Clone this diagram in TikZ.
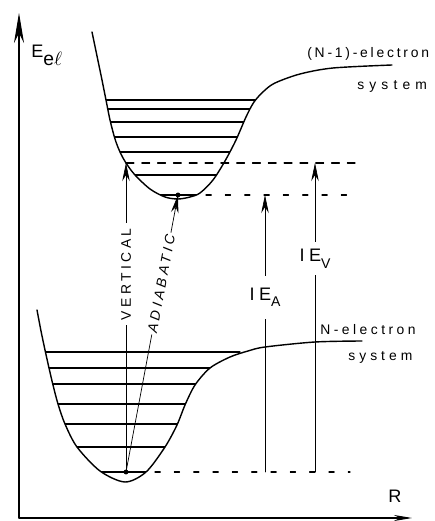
\documentclass[tikz,border=0pt]{standalone}
\usepackage{fontspec}
\usepackage{tikz}
\usetikzlibrary{arrows.meta}
\newfontfamily\labfont[LetterSpace=25]{Liberation Sans}

\begin{document}
\begin{tikzpicture}[x=0.02cm,y=0.02cm,>={Stealth[length=0.36cm,width=0.15cm]},line cap=round,
pot/.style={thick},vib/.style={semithick},guide/.style={semithick,dash pattern=on 4.5pt off 4.5pt},
sparse/.style={semithick,dash pattern=on 3pt off 8pt},
lab/.style={font=\labfont\fontsize{7.9}{9}\selectfont},
tilt/.style={font=\labfont\itshape\fontsize{7.9}{9}\selectfont},
big/.style={font=\labfont\fontsize{10.3}{12}\selectfont},
gapfill/.style={fill=white,inner sep=1pt}]
\useasboundingbox (0,0) rectangle (435,521);
\coordinate (O) at (19,3);
\coordinate (ytop) at (19,508);
\coordinate (xend) at (412,3);
\draw[semithick,-{Stealth[length=0.6cm,width=0.2cm]}] (O) -- (ytop);
\draw[semithick,-{Stealth[length=0.36cm,width=0.12cm]}] (O) -- (xend);
\node[big,anchor=base west,inner sep=0pt] (elab) at (31,463) {E\raisebox{-4pt}{\fontsize{11}{11}\selectfont e$\ell$}};
\node[big] (rlab) at (395,25) {R};
\draw[pot] plot[smooth] coordinates {(92,489) (97,465) (102,441) (106,421) (110,401) (115,382) (120,369) (126,358) (135,346) (150,332) (165,324) (178,322) (190,324) (200,328) (213,341) (225,360) (236,381) (246,404) (254,419) (264,430) (275,438) (300,447) (333,453) (392,456)};
\draw[pot] plot[smooth] coordinates {(37,211) (41,190) (45,171) (49,153) (53,136) (58,117) (65,97) (77,74) (100,50) (125,39) (146,49) (165,74) (177,96) (185,116) (195,136) (210,153) (230,164) (248,170) (265,174) (315,179) (362,180)};
\begin{scope}
\clip plot[smooth] coordinates {(92,489) (97,465) (102,441) (106,421) (110,401) (115,382) (120,369) (126,358) (135,346) (150,332) (165,324) (178,322) (190,324) (200,328) (213,341) (225,360) (236,381) (246,404) (254,419) (264,430) (275,438) (300,447) (333,453) (392,456)} -- (392,521) -- (92,521) -- cycle;
\draw[vib] (90,421) -- (260,421);
\draw[vib] (90,412) -- (260,412);
\draw[vib] (90,399) -- (260,399);
\draw[vib] (90,384) -- (260,384);
\draw[vib] (90,369) -- (260,369);
\draw[vib] (90,346) -- (260,346);
\draw[vib] (90,326) -- (260,326);
\end{scope}
\begin{scope}
\clip plot[smooth] coordinates {(37,211) (41,190) (45,171) (49,153) (53,136) (58,117) (65,97) (77,74) (100,50) (125,39) (146,49) (165,74) (177,96) (185,116) (195,136) (210,153) (230,164) (248,170) (265,174) (315,179) (362,180)} -- (362,300) -- (37,300) -- cycle;
\draw[vib] (35,169) -- (240,169);
\draw[vib] (35,153) -- (240,153);
\draw[vib] (35,137) -- (240,137);
\draw[vib] (35,117) -- (240,117);
\draw[vib] (35,97) -- (240,97);
\draw[vib] (35,74) -- (240,74);
\draw[vib] (35,49) -- (240,49);
\end{scope}
\coordinate (nmin) at (126,49);
\coordinate (vtop) at (126,358);
\coordinate (atop) at (178,326);
\coordinate (abot) at (265,49);
\coordinate (atip) at (265,326);
\coordinate (vbot) at (315,49);
\coordinate (vtip) at (315,358);
\coordinate (vend) at (355,358);
\coordinate (astart) at (206,326);
\coordinate (aend) at (347,326);
\coordinate (nstart) at (155,49);
\coordinate (nend) at (350,49);
\draw[guide] (vtop) -- (vend);
\draw[sparse] (astart) -- (aend);
\draw[sparse] (nstart) -- (nend);
\draw[thin,->] (nmin) -- node[sloped,pos=0.64,gapfill,lab,inner xsep=3pt] (vlab) {VERTICAL} (vtop);
\draw[thin,->] (nmin) -- node[sloped,pos=0.68,gapfill,tilt] (alab) {ADIABATIC} (atop);
\draw[thin,->] (abot) -- node[pos=0.63,big,fill=white,inner xsep=1pt,inner ysep=7pt] (ialab) {IE\raisebox{-3.5pt}{\fontsize{8}{8}\selectfont A}} (atip);
\draw[thin,->] (vbot) -- node[pos=0.69,big,fill=white,inner xsep=1pt,inner ysep=4pt] (ivlab) {IE\raisebox{-3.5pt}{\fontsize{8}{8}\selectfont V}} (vtip);
\fill (nmin) circle (1.4pt);
\fill (atop) circle (1.4pt);
\node[lab,anchor=base west,inner sep=0pt] (upname) at (307,463) {\addfontfeature{LetterSpace=20}(N-1)-electron};
\node[lab,anchor=base west,inner sep=0pt] (upsys) at (357,431) {\addfontfeature{LetterSpace=37}system};
\node[lab,anchor=base west,inner sep=0pt] (lowname) at (320,186) {N-electron};
\node[lab,anchor=base west,inner sep=0pt] (lowsys) at (348,160) {\addfontfeature{LetterSpace=29}system};
\end{tikzpicture}
\end{document}
